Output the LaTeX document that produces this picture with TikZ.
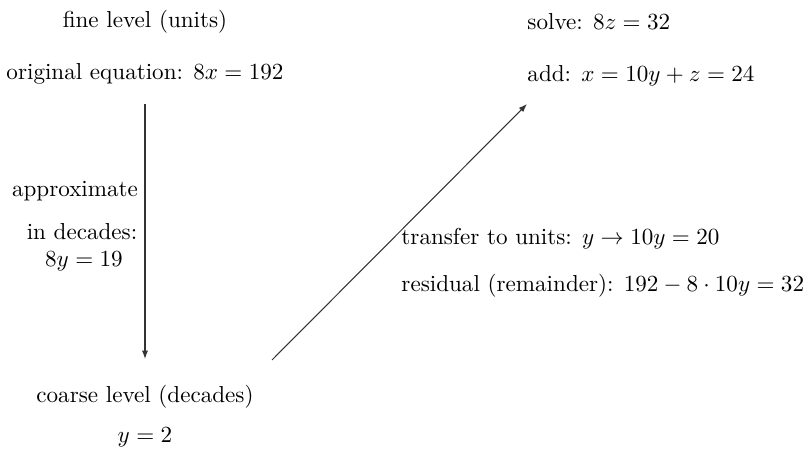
\documentclass[tikz,border=0pt]{standalone}
\usetikzlibrary{arrows.meta}
\begin{document}
\begin{tikzpicture}[x=0.4329pt,y=-0.4329pt,
  lbl/.style={inner sep=0pt,font=\normalsize},
  arr/.style={-{Latex[length=3.6pt,width=2.6pt]},line width=0.45pt,draw=black!80}]
\useasboundingbox (0,0) rectangle (812,459);
\node[lbl,anchor=base] (fine) at (145,28) {fine level (units)};
\node[lbl,anchor=base] (orig) at (145,80) {original equation: $8x=192$};
\node[lbl,anchor=base] (appr) at (75,197) {approximate};
\node[lbl,anchor=base] (indec) at (82,240) {in decades:};
\node[lbl,anchor=base] (eqy) at (84,267) {$8y=19$};
\node[lbl,anchor=base] (coarse) at (145,403) {coarse level (decades)};
\node[lbl,anchor=base] (ytwo) at (145,443) {$y=2$};
\node[lbl,anchor=base west] (solve) at (527,30) {solve: $8z=32$};
\node[lbl,anchor=base west] (add) at (527,82) {add: $x=10y+z=24$};
\node[lbl,anchor=base west] (trans) at (401,245) {transfer to units: $y\rightarrow 10y=20$};
\node[lbl,anchor=base west] (resid) at (401,292) {residual (remainder): $192-8\cdot 10y=32$};
\coordinate (vtop) at (145,104);
\coordinate (vbot) at (145,359);
\coordinate (dbot) at (272,360);
\coordinate (dtop) at (527,104);
\draw[arr] (vtop) -- (vbot);
\draw[arr] (dbot) -- (dtop);
\end{tikzpicture}
\end{document}
